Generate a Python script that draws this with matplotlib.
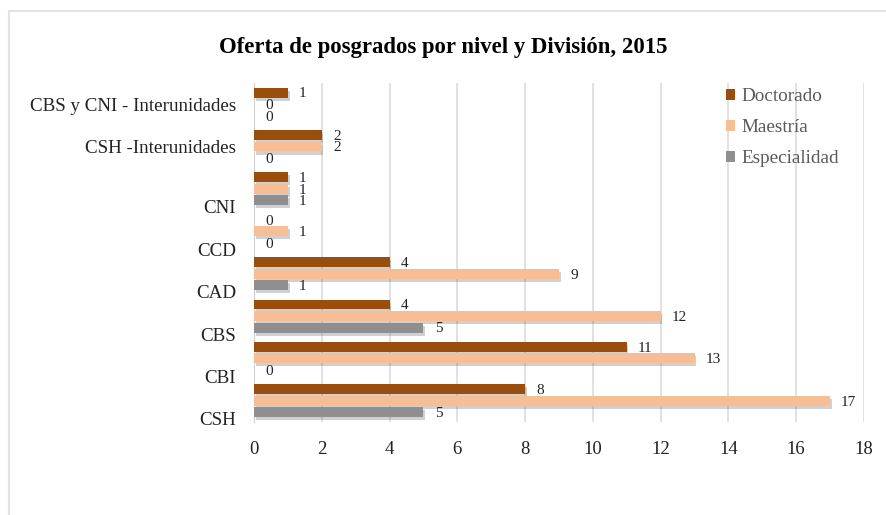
import numpy as np
import matplotlib.pyplot as plt
import matplotlib.patheffects as pe
from matplotlib.patches import Rectangle
from matplotlib.transforms import ScaledTranslation

plt.rcParams['font.family'] = ['Liberation Serif', 'DejaVu Serif']

categories = ['CSH', 'CBI', 'CBS', 'CAD', 'CCD', 'CNI',
              'CSH -Interunidades', 'CBS y CNI - Interunidades']
doctorado = [8, 11, 4, 4, 0, 1, 2, 1]
maestria = [17, 13, 12, 9, 1, 1, 2, 0]
especialidad = [5, 0, 5, 1, 0, 1, 0, 0]

series = [('Doctorado', doctorado, '#9A4E0C'),
          ('Maestría', maestria, '#F7BE95'),
          ('Especialidad', especialidad, '#8F8F8F')]

fig = plt.figure(figsize=(8.87, 5.15), dpi=100)
ax = fig.add_axes([0.2864, 0.1806, 0.974 - 0.2864, 0.839 - 0.1806])

# chart area border
fig.patches.append(Rectangle((9.5 / 887, -0.1), 1.2, 1.1 - 10.5 / 515,
                             transform=fig.transFigure, fill=False,
                             edgecolor='#e3e3e3', linewidth=1.5))

y = np.arange(len(categories))
h = 0.235
step = 0.272
shadow = [pe.SimplePatchShadow(offset=(1.2, -2.2), shadow_rgbFace='#666666', alpha=0.3),
          pe.Normal()]
for i, (name, vals, col) in enumerate(series):
    ypos = y + step * (1 - i)
    bars = ax.barh(ypos, vals, height=h, color=col, label=name, zorder=3)
    for b in bars:
        b.set_path_effects(shadow)
    for yy, v in zip(ypos, vals):
        ax.annotate(str(v), (v, yy), xytext=(8, -1), textcoords='offset points',
                    ha='left', va='center', fontsize=11, color='#222222', zorder=4)

ax.set_xlim(0, 18)
ax.set_ylim(-0.5, 7.5)
ax.set_xticks(np.arange(0, 19, 2))
ax.set_yticks(y)
ax.set_yticklabels(categories)
ax.tick_params(axis='x', labelsize=13.5, length=0, pad=14, colors='#222222')
ax.tick_params(axis='y', labelsize=13.7, length=0, pad=13, colors='#222222')
for lbl in ax.get_yticklabels():
    if '-' not in lbl.get_text():
        lbl.set_transform(lbl.get_transform() + ScaledTranslation(0, -0.18, fig.dpi_scale_trans))
ax.grid(axis='x', color='#dcdcdc', linewidth=1.2, zorder=0)
for s in ['top', 'right', 'bottom']:
    ax.spines[s].set_visible(False)
ax.spines['left'].set_color('#d0d0d0')
ax.spines['left'].set_zorder(2)

fig.text(0.5 + 0.0, 1 - 47 / 515, 'Oferta de posgrados por nivel y División, 2015',
         ha='center', va='center', fontsize=16.4, fontweight='bold')

leg = ax.legend(loc='upper left', bbox_to_anchor=(0.745, 1.035), frameon=False,
                fontsize=13.8, handlelength=0.5, handleheight=0.5, handletextpad=0.3,
                labelspacing=0.72, labelcolor='#595959')
for hd in leg.legend_handles:
    hd.set_path_effects([])

fig.savefig('out.png', dpi=100)
